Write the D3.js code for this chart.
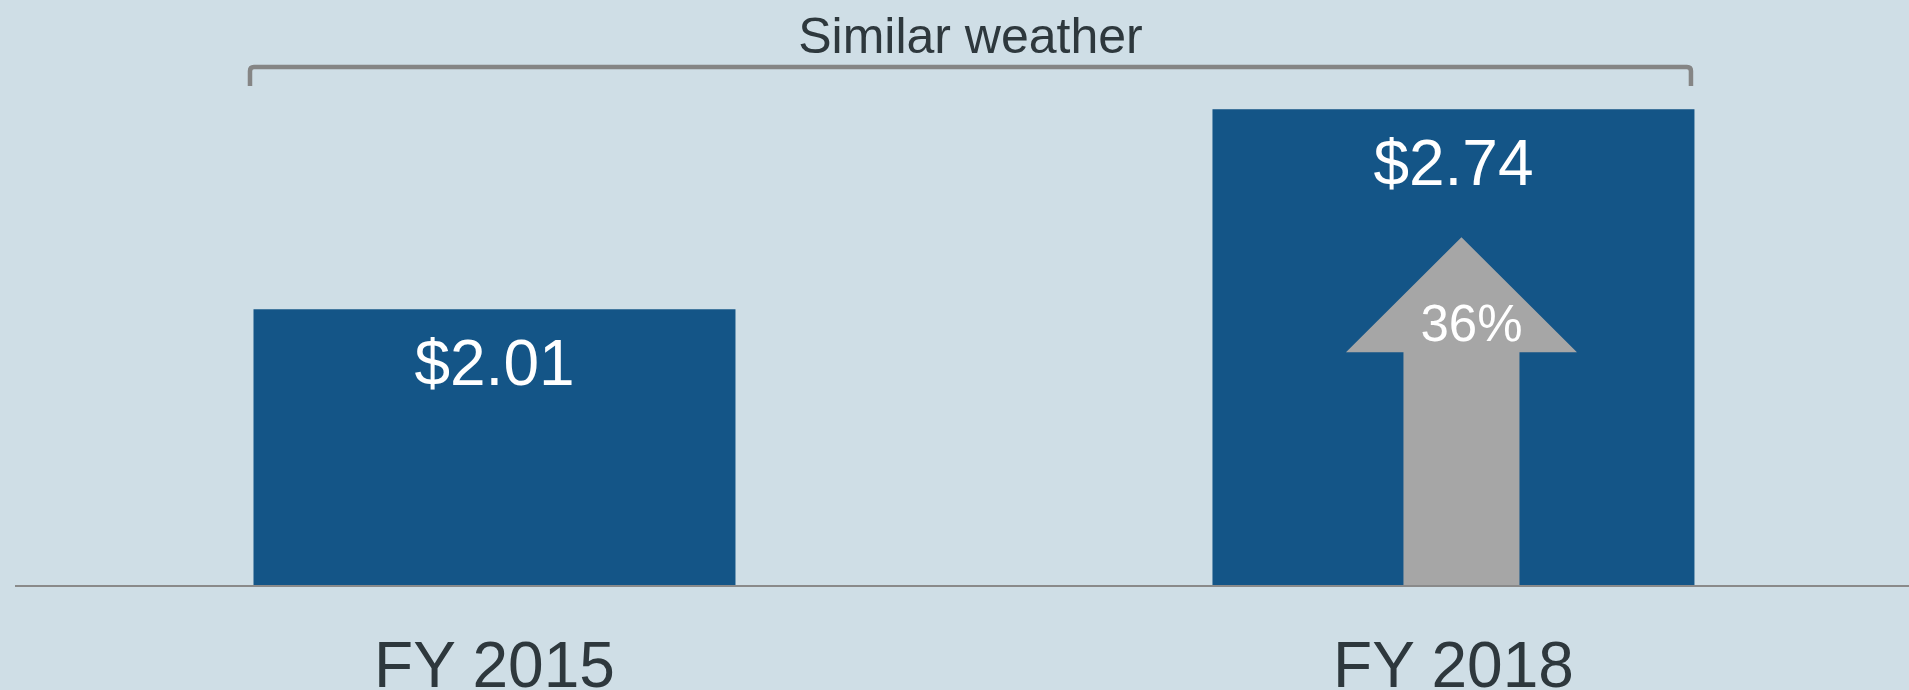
<!DOCTYPE html>
<html>
<head>
<meta charset="utf-8">
<script src="https://cdn.jsdelivr.net/npm/d3@7"></script>
<style>
  html, body { margin: 0; padding: 0; background: #cfdee6; overflow: hidden; }
  svg { display: block; font-family: "Liberation Sans", Arial, sans-serif; }
</style>
</head>
<body>
<div id="chart"></div>
<script>
var years = ['FY 2015', 'FY 2018'];
var values = [2.01, 2.74];
var valueLabels = ['$2.01', '$2.74'];
var changeLabel = '36%';
var bracketLabel = 'Similar weather';

var width = 1909, height = 690;
var baseY = 586;

var x = d3.scaleBand()
    .domain(years)
    .range([13.75, 1934.2])
    .paddingInner(0.4974)
    .paddingOuter(0.25);

// axis does not start at zero
var y = d3.scaleLinear().domain([1, 3]).range([baseY, 38]);

var svg = d3.select('#chart').append('svg')
    .attr('width', width)
    .attr('height', height);

svg.append('rect')
    .attr('width', width).attr('height', height)
    .attr('fill', '#cfdee6');

// bars
svg.selectAll('.bar')
    .data(values)
    .enter()
    .append('rect')
    .attr('class', 'bar')
    .attr('x', function(d, i) { return x(years[i]); })
    .attr('y', function(d) { return y(d); })
    .attr('width', x.bandwidth())
    .attr('height', function(d) { return baseY - y(d); })
    .attr('fill', '#145587');

// arrow inside second bar
var cx = x(years[1]) + x.bandwidth() / 2 + 8;
var tipY = y(values[1]) + 128;
var wingY = tipY + 115;
var headHalf = 115.5, shaftHalf = 58;
svg.append('path')
    .attr('d', 'M' + cx + ',' + tipY +
        'L' + (cx + headHalf) + ',' + wingY +
        'L' + (cx + shaftHalf) + ',' + wingY +
        'L' + (cx + shaftHalf) + ',' + baseY +
        'L' + (cx - shaftHalf) + ',' + baseY +
        'L' + (cx - shaftHalf) + ',' + wingY +
        'L' + (cx - headHalf) + ',' + wingY + 'Z')
    .attr('fill', '#a6a6a6');

svg.append('text')
    .attr('x', cx + 10)
    .attr('y', wingY - 11)
    .attr('text-anchor', 'middle')
    .attr('fill', 'white')
    .style('font-size', '51px')
    .text(changeLabel);

// baseline
svg.append('line')
    .attr('x1', 15).attr('x2', width)
    .attr('y1', baseY).attr('y2', baseY)
    .attr('stroke', '#8a8a8a')
    .attr('stroke-width', 2);

// value labels
svg.selectAll('.val')
    .data(values)
    .enter()
    .append('text')
    .attr('class', 'val')
    .attr('x', function(d, i) { return x(years[i]) + x.bandwidth() / 2; })
    .attr('y', function(d) { return y(d) + 76; })
    .attr('text-anchor', 'middle')
    .attr('fill', 'white')
    .style('font-size', '64px')
    .text(function(d, i) { return valueLabels[i]; });

// category labels
svg.selectAll('.cat')
    .data(years)
    .enter()
    .append('text')
    .attr('class', 'cat')
    .attr('x', function(d) { return x(d) + x.bandwidth() / 2; })
    .attr('y', 687)
    .attr('text-anchor', 'middle')
    .attr('fill', '#2e383d')
    .style('font-size', '64px')
    .text(function(d) { return d; });

// bracket over both bars
var bx0 = x(years[0]) - 3.5, bx1 = x(years[1]) + x.bandwidth() - 3.5;
var by0 = 67, by1 = 86, r = 4;
svg.append('path')
    .attr('d', 'M' + bx0 + ',' + by1 +
        'L' + bx0 + ',' + (by0 + r) +
        'Q' + bx0 + ',' + by0 + ' ' + (bx0 + r) + ',' + by0 +
        'L' + (bx1 - r) + ',' + by0 +
        'Q' + bx1 + ',' + by0 + ' ' + bx1 + ',' + (by0 + r) +
        'L' + bx1 + ',' + by1)
    .attr('fill', 'none')
    .attr('stroke', '#858585')
    .attr('stroke-width', 4.5);

svg.append('text')
    .attr('x', (bx0 + bx1) / 2)
    .attr('y', 52.7)
    .attr('text-anchor', 'middle')
    .attr('fill', '#2e383d')
    .style('font-size', '50px')
    .text(bracketLabel);
</script>
</body>
</html>
